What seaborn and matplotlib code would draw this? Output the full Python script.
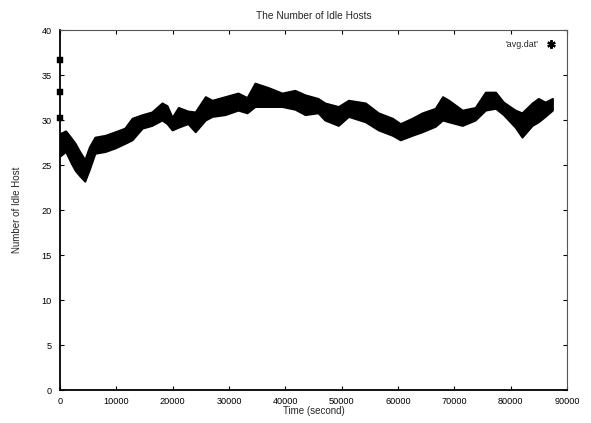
import matplotlib
matplotlib.use("Agg")
import matplotlib.pyplot as plt
from matplotlib.lines import Line2D
import numpy as np
import pandas as pd
import seaborn as sns

# Sampled envelope of the idle-host count (seconds, lower, upper)
time_s = [0, 1000, 2000, 2700, 3500, 4400, 5200, 6200, 8000, 9800, 11500,
          12800, 14600, 16300, 18100, 19000, 19900, 21000, 22700, 24000,
          25800, 27000, 29300, 31600, 33200, 34600, 37000, 39400, 41700,
          43500, 45800, 47000, 49400, 51200, 54200, 56500, 59000, 60400,
          62500, 64300, 66600, 67900, 69000, 71400, 73700, 75500, 77300,
          78700, 80800, 82000, 83800, 84900, 86100, 87400]
idle_low = [26.0, 26.5, 25.2, 24.4, 23.8, 23.2, 24.5, 26.3, 26.5, 26.9, 27.4,
            27.8, 29.1, 29.4, 30.0, 29.6, 28.9, 29.2, 29.6, 28.7,
            30.0, 30.4, 30.6, 31.1, 30.8, 31.5, 31.5, 31.5, 31.2,
            30.6, 30.8, 30.0, 29.4, 30.4, 29.8, 28.9, 28.3, 27.8,
            28.3, 28.7, 29.3, 30.0, 29.8, 29.4, 30.0, 31.1, 31.3,
            30.6, 29.2, 28.1, 29.4, 29.8, 30.4, 31.1]
idle_high = [28.5, 28.8, 28.0, 27.4, 26.5, 25.6, 27.0, 28.1, 28.3, 28.7, 29.1,
             30.2, 30.6, 30.9, 31.9, 31.6, 30.3, 31.4, 31.0, 30.9,
             32.6, 32.2, 32.6, 33.0, 32.5, 34.1, 33.6, 33.0, 33.3,
             32.8, 32.4, 31.9, 31.5, 32.2, 31.9, 30.8, 30.2, 29.6,
             30.2, 30.8, 31.3, 32.6, 32.2, 31.1, 31.4, 33.1, 33.1,
             32.0, 31.1, 30.8, 31.9, 32.4, 32.0, 32.4]

# Early outlier readings at t = 0
start_time = [0, 0, 0]
start_vals = [36.7, 33.1, 30.2]

x_ticks = [0, 10000, 20000, 30000, 40000, 50000, 60000, 70000, 80000, 90000]
y_ticks = [0, 5, 10, 15, 20, 25, 30, 35, 40]

sns.set_theme(style="white")
plt.rcParams["font.family"] = ["Liberation Sans", "DejaVu Sans"]

band = pd.DataFrame({
    "time": time_s + time_s,
    "hosts": idle_low + idle_high,
})

fig = plt.figure(figsize=(5.91, 4.23), dpi=100)
ax = fig.add_axes([0.1015, 0.078, 0.858, 0.851])

sns.lineplot(data=band, x="time", y="hosts", estimator="mean",
             errorbar=("pi", 100), color="black", linewidth=1.0,
             err_kws={"alpha": 1.0, "linewidth": 1.4, "edgecolor": "black"},
             ax=ax)

sns.scatterplot(x=start_time, y=start_vals, marker="s", s=14,
                color="black", edgecolor="black", ax=ax, zorder=5,
                clip_on=False)

ax.set_xlim(0, 90000)
ax.set_ylim(0, 40)
ax.set_xticks(x_ticks)
ax.set_yticks(y_ticks)
ax.set_xticklabels([str(v) for v in x_ticks], fontsize=6.6)
ax.set_yticklabels([str(v) for v in y_ticks], fontsize=6.6)
ax.tick_params(axis="x", pad=5)
ax.tick_params(axis="y", pad=6)
ax.tick_params(direction="in", length=3, width=0.8, top=True, right=True,
               bottom=True, left=True, colors="black")

for side in ["left", "bottom"]:
    ax.spines[side].set_color("black")
    ax.spines[side].set_linewidth(1.3)
for side in ["top", "right"]:
    ax.spines[side].set_color("#555555")
    ax.spines[side].set_linewidth(0.8)
    ax.spines[side].set_linestyle((0, (2, 1)))

ax.set_title("The Number of Idle Hosts", fontsize=7.3, pad=8)
ax.set_xlabel("Time (second)", fontsize=7, labelpad=0)
ax.set_ylabel("Number of Idle Host", fontsize=7, labelpad=14)

handle = Line2D([], [], linestyle="none", marker=(6, 2, 0), markersize=6,
                markeredgewidth=1.6, color="black")
ax.legend([handle], ["'avg.dat'"], loc="upper right", frameon=False,
          markerfirst=False, fontsize=6.4, handletextpad=0.8,
          handlelength=1.2, bbox_to_anchor=(0.995, 0.995))

fig.savefig("out.png", dpi=100, facecolor="white")
